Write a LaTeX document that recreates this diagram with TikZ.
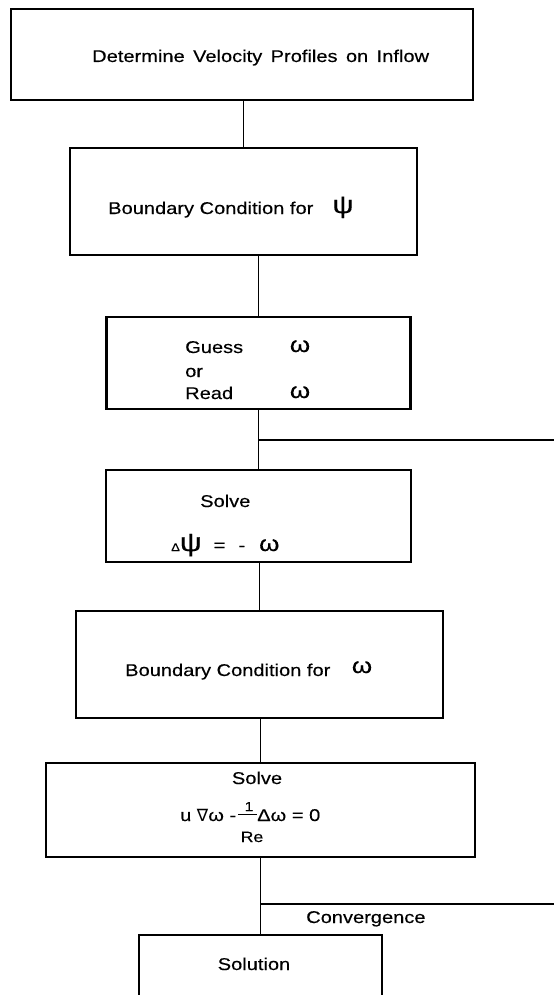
\documentclass[tikz,border=0pt]{standalone}
\usepackage{fontspec}
\setmainfont{Liberation Sans}[FakeStretch=1.18,FakeBold=0.3]
\newfontfamily\symfont{DejaVu Sans}
\begin{document}
\begin{tikzpicture}[x=1pt,y=-1pt,
  every node/.style={inner sep=0pt, font=\fontsize{17}{20}\selectfont},
  box/.style={draw, line width=2.7pt},
  conn/.style={line width=1.1pt},
  txt/.style={anchor=base west},
  ctxt/.style={anchor=base},
  greek/.style={anchor=base, font=\fontsize{22}{25}\selectfont}]
\useasboundingbox (0,0) rectangle (554,995);
\clip (0,0) rectangle (554,995);
\fill[white] (0,0) rectangle (554,995);
% boxes
\node[box, minimum width=462pt, minimum height=91pt] (b1) at (242,54.5) {};
\node[box, minimum width=347pt, minimum height=107pt] (b2) at (243.5,201.5) {};
\node[box, minimum width=304pt, minimum height=92pt] (b3) at (258.5,363) {};
\node[box, minimum width=305pt, minimum height=92pt] (b4) at (258.5,516) {};
\node[box, minimum width=367pt, minimum height=107pt] (b5) at (259.5,664.5) {};
\node[box, minimum width=429pt, minimum height=94pt] (b6) at (260.5,810) {};
\node[box, minimum width=243pt, minimum height=80pt] (b7) at (260.5,975) {};
% texts
\node[txt] (t1) at (92,62) {Determine\, Velocity\, Profiles\, on\, Inflow};
\node[txt] (t2) at (108,214) {Boundary Condition for};
\node[greek, font=\fontsize{25}{28}\selectfont] (t2p) at (343,213) {ψ};
\node[txt] (t3a) at (185,353) {Guess};
\node[greek] (t3w) at (300,352) {ω};
\node[txt] (t3b) at (185,377) {or};
\node[txt] (t3c) at (185,399) {Read};
\node[greek] (t3v) at (300,398) {ω};
\node[txt] (t4) at (200,507) {Solve};
\node[txt] (eq4) at (171,551) {{\fontsize{11}{12}\selectfont Δ}{\fontsize{26}{28}\selectfont ψ}\hspace{12pt}=\hspace{13pt}-\hspace{14pt}{\fontsize{22}{24}\selectfont ω}};
\node[txt] (t5) at (125,676) {Boundary Condition for};
\node[greek] (t5w) at (362,673) {ω};
\node[ctxt] (t6) at (257,784) {Solve};
\node[txt] (eq6a) at (180,821) {u {\symfont ∇}ω -};
\node[ctxt, font=\fontsize{13}{14}\selectfont] (eq6n) at (249,811) {1};
\draw[line width=1pt] (238,814) -- (257,814);
\node[txt] (eq6b) at (257,821) {Δω = 0};
\node[ctxt, font=\fontsize{15}{16}\selectfont] (eq6d) at (252,842) {Re};
\node[txt] (t8) at (306,923) {Convergence};
\node[ctxt] (t7) at (254,970) {Solution};
% connectors
\draw[conn] (b2.north |- b1.south) -- (b2.north);
\draw[conn] (b3.north |- b2.south) -- (b3.north);
\draw[conn] (b4.north |- b3.south) -- (b4.north);
\draw[conn] (b5.north |- b4.south) -- (b5.north);
\draw[conn] (b6.north |- b5.south) -- (b6.north);
\draw[conn] (b7.north |- b6.south) -- (b7.north);
\coordinate (j1) at (258.5,440);
\coordinate (e1) at (554,440);
\coordinate (j2) at (260.5,904);
\coordinate (e2) at (554,904);
\draw[conn] (j1) -- (e1);
\draw[conn] (j2) -- (e2);
\end{tikzpicture}
\end{document}
